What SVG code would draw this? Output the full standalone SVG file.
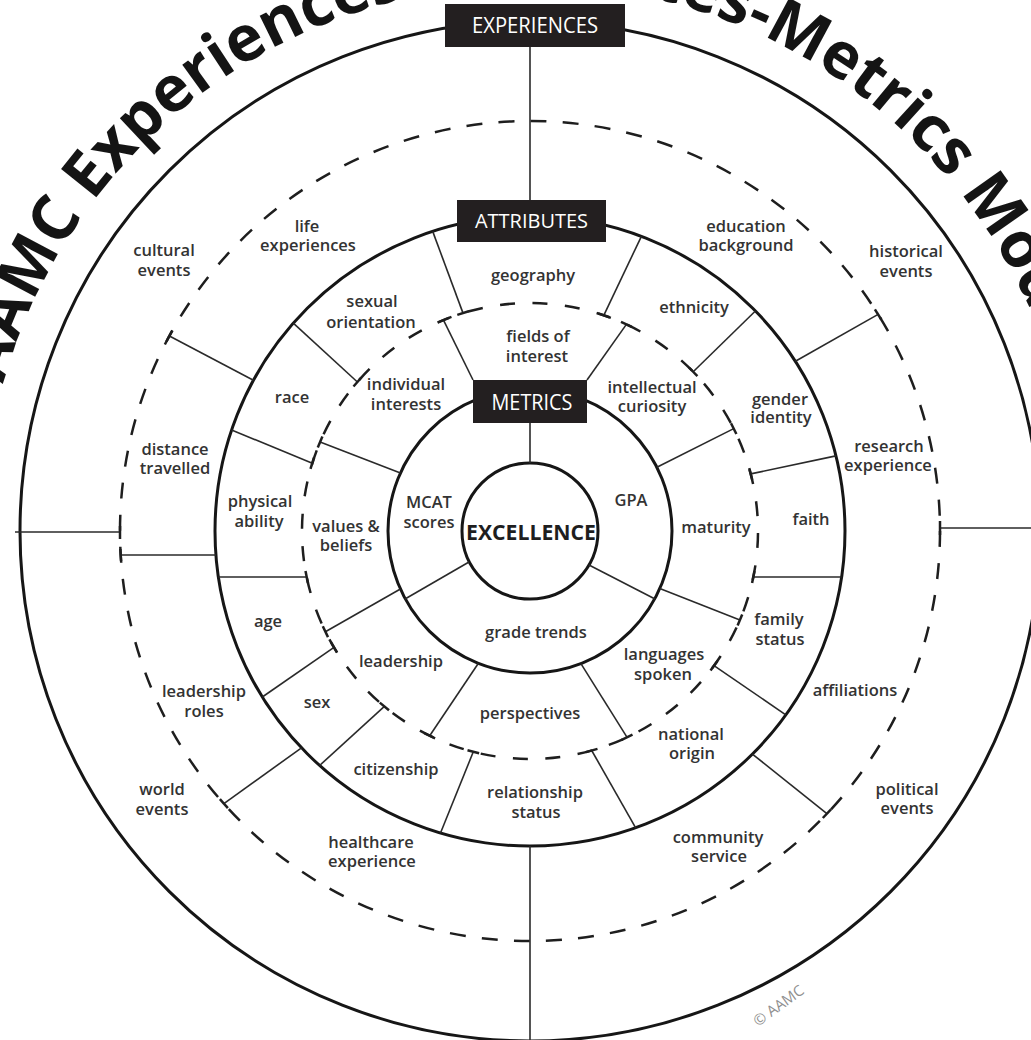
<svg xmlns="http://www.w3.org/2000/svg" width="1031" height="1040" viewBox="0 0 1031 1040">
<defs>
<style>
.ring{fill:none;stroke:#161616;stroke-width:3}
.dash{fill:none;stroke:#1e1e1e;stroke-width:2.5}
.sep{stroke:#2a2a2a;stroke-width:1.6;fill:none}
.tick{stroke:#1e1e1e;stroke-width:2.5;fill:none}
.box{fill:#231f20}
.boxt{fill:#ffffff;font-family:'Open Sans','Liberation Sans',sans-serif;font-weight:500;text-anchor:middle}
.lbl{fill:#333333;font-family:'Open Sans','Liberation Sans',sans-serif;font-weight:600;font-size:16.5px;text-anchor:middle}
.title{fill:#141414;font-family:'Open Sans','Liberation Sans',sans-serif;font-weight:700;font-size:63.5px}
</style>
<path id="titleArc" d="M -17,531 A 547 547 0 0 1 1077,531"/>
</defs>
<rect width="1031" height="1040" fill="#ffffff"/>

<g id="title">
<text class="title"><textPath href="#titleArc" startOffset="849" text-anchor="middle">AAMC Experiences-Attributes-Metrics Model</textPath></text>
</g>

<g id="rings">
<circle class="ring" cx="530" cy="531" r="510" stroke-width="2.8"/>
<circle class="dash" cx="530" cy="531" r="410" stroke-dasharray="16 16.2"/>
<circle class="ring" cx="530" cy="531" r="315" stroke-width="3.2"/>
<circle class="dash" cx="530" cy="531" r="228" stroke-dasharray="15 17.56" stroke-dashoffset="-2"/>
<circle class="ring" cx="530" cy="531" r="142"/>
<circle class="ring" cx="530" cy="531" r="68"/>
</g>

<g id="connectors">
<line class="sep" x1="530" y1="47" x2="530" y2="200"/>
<line class="sep" x1="530" y1="423" x2="530" y2="463"/>
<line class="sep" x1="530" y1="846" x2="530" y2="1040"/>
<line class="sep" x1="940" y1="528" x2="1045" y2="528"/>
<line class="sep" x1="15" y1="532" x2="120" y2="532"/>
<line class="sep" x1="469" y1="562" x2="405" y2="599"/>
<line class="sep" x1="589" y1="565" x2="655" y2="599"/>
<line class="sep" x1="473" y1="380" x2="443.5" y2="320.1"/>
<line class="sep" x1="587" y1="380" x2="626.4" y2="324.4"/>
<line class="sep" x1="656.9" y1="467.2" x2="733.7" y2="428.6"/>
<line class="sep" x1="659.8" y1="588.5" x2="739.9" y2="620.1"/>
<line class="sep" x1="580.9" y1="663.6" x2="627.1" y2="737.3"/>
<line class="sep" x1="478.4" y1="663.3" x2="429.7" y2="735.7"/>
<line class="sep" x1="400.4" y1="589" x2="325.4" y2="631.7"/>
<line class="sep" x1="400.4" y1="473" x2="320.1" y2="441.9"/>
<line class="sep" x1="463" y1="313.1" x2="432.7" y2="231.4"/>
<line class="sep" x1="603.8" y1="315.3" x2="641.4" y2="236.3"/>
<line class="sep" x1="693.2" y1="371.8" x2="755.4" y2="311"/>
<line class="sep" x1="750.7" y1="473.9" x2="835.9" y2="455.9"/>
<line class="sep" x1="753.3" y1="577" x2="841.6" y2="577"/>
<line class="sep" x1="714" y1="665.7" x2="785.8" y2="714.8"/>
<line class="sep" x1="591.7" y1="750.5" x2="635.7" y2="827.8"/>
<line class="sep" x1="473.3" y1="751.8" x2="440.5" y2="833"/>
<line class="sep" x1="384.4" y1="706.4" x2="319.6" y2="765.5"/>
<line class="sep" x1="334" y1="647.4" x2="262.3" y2="697"/>
<line class="sep" x1="306.7" y1="577" x2="218.4" y2="577"/>
<line class="sep" x1="312.3" y1="463.2" x2="231.6" y2="430"/>
<line class="sep" x1="357.4" y1="382" x2="293.3" y2="323.1"/>
<line class="sep" x1="795.4" y1="361.3" x2="878.1" y2="314.4"/>
<line class="sep" x1="752.4" y1="754.1" x2="826.9" y2="813.7"/>
<line class="sep" x1="301.5" y1="747.8" x2="223.9" y2="803.7"/>
<line class="sep" x1="215.9" y1="555" x2="120.7" y2="555"/>
<line class="sep" x1="253.4" y1="380.2" x2="169.4" y2="336"/>
<line class="tick" x1="940" y1="521" x2="940" y2="535"/>
<line class="tick" x1="120" y1="526" x2="120" y2="539"/>
<line class="tick" x1="120.3" y1="549" x2="121.1" y2="561"/>
<line class="tick" x1="881.3" y1="319.5" x2="874.9" y2="309.3"/>
<line class="tick" x1="822.8" y1="818" x2="831" y2="809.4"/>
<line class="tick" x1="219.9" y1="799.2" x2="227.9" y2="808.2"/>
<line class="tick" x1="172.3" y1="330.7" x2="166.5" y2="341.3"/>
<line class="tick" x1="449.1" y1="317.8" x2="437.9" y2="322.4"/>
<line class="tick" x1="631.8" y1="326.9" x2="621" y2="321.9"/>
<line class="tick" x1="736.4" y1="434" x2="731" y2="423.2"/>
<line class="tick" x1="737.6" y1="625.6" x2="742.2" y2="614.6"/>
<line class="tick" x1="621.7" y1="739.9" x2="632.5" y2="734.7"/>
<line class="tick" x1="424.3" y1="733.1" x2="435.1" y2="738.3"/>
<line class="tick" x1="322.8" y1="626.3" x2="328" y2="637.1"/>
<line class="tick" x1="322.4" y1="436.4" x2="317.8" y2="447.4"/>
<line class="tick" x1="468.7" y1="311.3" x2="457.3" y2="314.9"/>
<line class="tick" x1="609.5" y1="317.2" x2="598.1" y2="313.4"/>
<line class="tick" x1="697.4" y1="376.1" x2="689" y2="367.5"/>
<line class="tick" x1="752.2" y1="479.7" x2="749.2" y2="468.1"/>
<line class="tick" x1="752.1" y1="582.9" x2="754.5" y2="571.1"/>
<line class="tick" x1="710.5" y1="670.5" x2="717.5" y2="660.9"/>
<line class="tick" x1="585.9" y1="752.1" x2="597.5" y2="748.9"/>
<line class="tick" x1="467.5" y1="750.3" x2="479.1" y2="753.3"/>
<line class="tick" x1="379.8" y1="702.6" x2="389" y2="710.2"/>
<line class="tick" x1="330.9" y1="642.2" x2="337.1" y2="652.6"/>
<line class="tick" x1="305.5" y1="571.1" x2="307.9" y2="582.9"/>
<line class="tick" x1="314.1" y1="457.5" x2="310.5" y2="468.9"/>
<line class="tick" x1="361.3" y1="377.5" x2="353.5" y2="386.5"/>
</g>

<g id="node-experiences">
<rect class="box" x="445" y="4" width="180" height="43"/>
<text class="boxt" x="535" y="33" font-size="21" textLength="126" lengthAdjust="spacingAndGlyphs">EXPERIENCES</text>
</g>
<g id="node-attributes">
<rect class="box" x="457" y="200" width="149" height="42"/>
<text class="boxt" x="531.5" y="228" font-size="20.5" textLength="113" lengthAdjust="spacingAndGlyphs">ATTRIBUTES</text>
</g>
<g id="node-metrics">
<rect class="box" x="473" y="380" width="114" height="43"/>
<text class="boxt" x="532" y="410" font-size="21.5" textLength="81" lengthAdjust="spacingAndGlyphs">METRICS</text>
</g>
<g id="node-excellence">
<text x="531" y="540" font-family="'Open Sans','Liberation Sans',sans-serif" font-weight="700" font-size="22" fill="#1e1e1e" text-anchor="middle" textLength="130" lengthAdjust="spacingAndGlyphs">EXCELLENCE</text>
</g>

<g id="node-cultural-events"><text class="lbl"><tspan x="164" y="256">cultural</tspan><tspan x="164" y="276">events</tspan></text></g>
<g id="node-historical-events"><text class="lbl"><tspan x="906" y="257">historical</tspan><tspan x="906" y="277">events</tspan></text></g>
<g id="node-political-events"><text class="lbl"><tspan x="907" y="795">political</tspan><tspan x="907" y="814">events</tspan></text></g>
<g id="node-world-events"><text class="lbl"><tspan x="162" y="795">world</tspan><tspan x="162" y="815">events</tspan></text></g>

<g id="node-life-experiences"><text class="lbl"><tspan x="307" y="232">life</tspan><tspan x="308" y="251">experiences</tspan></text></g>
<g id="node-education-background"><text class="lbl"><tspan x="746" y="232">education</tspan><tspan x="746" y="251">background</tspan></text></g>
<g id="node-research-experience"><text class="lbl"><tspan x="889" y="452">research</tspan><tspan x="888" y="471">experience</tspan></text></g>
<g id="node-affiliations"><text class="lbl" x="855" y="696">affiliations</text></g>
<g id="node-community-service"><text class="lbl"><tspan x="718" y="843">community</tspan><tspan x="719" y="862">service</tspan></text></g>
<g id="node-healthcare-experience"><text class="lbl"><tspan x="371" y="848">healthcare</tspan><tspan x="372" y="867">experience</tspan></text></g>
<g id="node-leadership-roles"><text class="lbl"><tspan x="204" y="697">leadership</tspan><tspan x="204" y="717">roles</tspan></text></g>
<g id="node-distance-travelled"><text class="lbl"><tspan x="175" y="455">distance</tspan><tspan x="175" y="474">travelled</tspan></text></g>

<g id="node-geography"><text class="lbl" x="533" y="281">geography</text></g>
<g id="node-ethnicity"><text class="lbl" x="694" y="313">ethnicity</text></g>
<g id="node-gender-identity"><text class="lbl"><tspan x="780" y="405">gender</tspan><tspan x="781" y="423">identity</tspan></text></g>
<g id="node-faith"><text class="lbl" x="811" y="525">faith</text></g>
<g id="node-family-status"><text class="lbl"><tspan x="779" y="625">family</tspan><tspan x="780" y="645">status</tspan></text></g>
<g id="node-national-origin"><text class="lbl"><tspan x="691" y="740">national</tspan><tspan x="692" y="759">origin</tspan></text></g>
<g id="node-relationship-status"><text class="lbl"><tspan x="535" y="798">relationship</tspan><tspan x="536" y="818">status</tspan></text></g>
<g id="node-citizenship"><text class="lbl" x="396" y="775">citizenship</text></g>
<g id="node-sex"><text class="lbl" x="317" y="708">sex</text></g>
<g id="node-age"><text class="lbl" x="268" y="627">age</text></g>
<g id="node-physical-ability"><text class="lbl"><tspan x="260" y="507">physical</tspan><tspan x="259" y="527">ability</tspan></text></g>
<g id="node-race"><text class="lbl" x="292" y="403">race</text></g>
<g id="node-sexual-orientation"><text class="lbl"><tspan x="372" y="307">sexual</tspan><tspan x="371" y="328">orientation</tspan></text></g>

<g id="node-fields-of-interest"><text class="lbl"><tspan x="538" y="342">fields of</tspan><tspan x="537" y="362">interest</tspan></text></g>
<g id="node-intellectual-curiosity"><text class="lbl"><tspan x="652" y="393">intellectual</tspan><tspan x="652" y="412">curiosity</tspan></text></g>
<g id="node-maturity"><text class="lbl" x="716" y="533">maturity</text></g>
<g id="node-languages-spoken"><text class="lbl"><tspan x="664" y="660">languages</tspan><tspan x="663" y="680">spoken</tspan></text></g>
<g id="node-perspectives"><text class="lbl" x="530" y="719">perspectives</text></g>
<g id="node-leadership"><text class="lbl" x="401" y="667">leadership</text></g>
<g id="node-values-beliefs"><text class="lbl"><tspan x="346" y="532">values &amp;</tspan><tspan x="346" y="551">beliefs</tspan></text></g>
<g id="node-individual-interests"><text class="lbl"><tspan x="406" y="390">individual</tspan><tspan x="406" y="410">interests</tspan></text></g>

<g id="node-mcat-scores"><text class="lbl"><tspan x="429" y="508">MCAT</tspan><tspan x="429" y="528">scores</tspan></text></g>
<g id="node-gpa"><text class="lbl" x="631" y="506">GPA</text></g>
<g id="node-grade-trends"><text class="lbl" x="536" y="638">grade trends</text></g>

<g id="copyright"><text x="0" y="0" transform="translate(758,1027) rotate(-36)" font-family="'Open Sans','Liberation Sans',sans-serif" font-size="15" fill="#8f8f8f">© AAMC</text></g>
</svg>
